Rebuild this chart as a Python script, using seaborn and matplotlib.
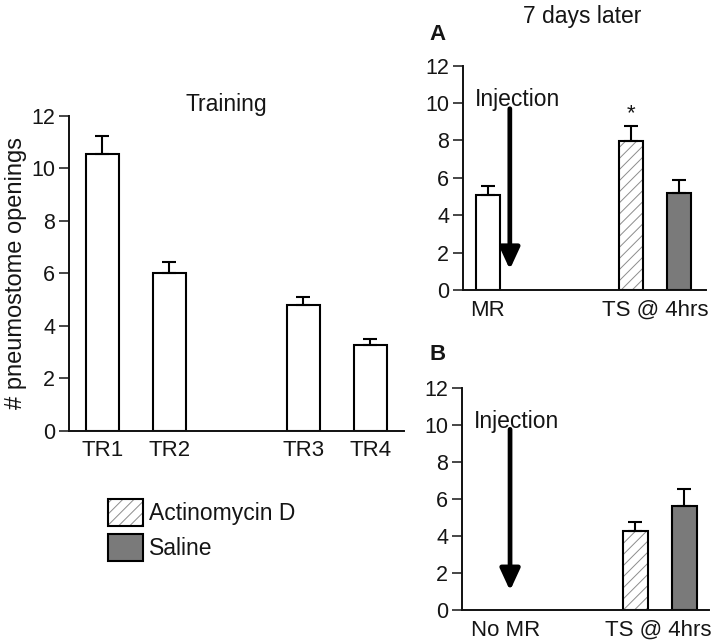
import matplotlib
matplotlib.use("Agg")
import matplotlib.pyplot as plt
from matplotlib.patches import Patch, Rectangle
from matplotlib.legend_handler import HandlerTuple
import seaborn as sns
import pandas as pd

# ---- data ----
train_labels = ["TR1", "TR2", "TR3", "TR4"]
train_pos = [0, 1, 3, 4]
train_mean = [10.56, 6.03, 4.80, 3.26]
train_sem = [0.66, 0.40, 0.31, 0.25]

a_groups = ["MR", "Actinomycin D", "Saline"]
a_pos = [0, 3, 4]
a_mean = [5.08, 7.95, 5.19]
a_sem = [0.50, 0.82, 0.68]

b_groups = ["Actinomycin D", "Saline"]
b_pos = [3, 4]
b_mean = [4.27, 5.64]
b_sem = [0.47, 0.92]

y_ticks = [0, 2, 4, 6, 8, 10, 12]
group_face = {"MR": "white", "Training": "white", "Actinomycin D": "white", "Saline": "#7a7a7a"}
HATCH_EDGE = "#8c8c8c"

sns.set_style("ticks")
plt.rcParams["font.family"] = ["Liberation Sans", "DejaVu Sans"]
plt.rcParams["hatch.linewidth"] = 0.7
TXT = "#151515"

fig = plt.figure(figsize=(7.2, 6.44), dpi=100)
ax0 = fig.add_axes([0.0958, 0.3312, 0.4653, 0.4887])
axA = fig.add_axes([0.6431, 0.5497, 0.3375, 0.3483])
axB = fig.add_axes([0.6417, 0.0528, 0.3430, 0.3443])


def draw(ax, pos, mean, sem, groups):
    df = pd.DataFrame({"x": pos, "y": mean})
    sns.barplot(data=df, x="x", y="y", native_scale=True, width=0.5,
                color="white", edgecolor="black", linewidth=1.5,
                errorbar=None, ax=ax)
    patches = [p for p in ax.patches]
    xs, tops = [], []
    for p, g in zip(patches, groups):
        p.set_facecolor(group_face[g])
        p.set_edgecolor("black")
        if g == "Actinomycin D":
            p.set_edgecolor(HATCH_EDGE)
            p.set_hatch("///")
            p.set_linewidth(0)
            ax.add_patch(Rectangle((p.get_x(), p.get_y()), p.get_width(), p.get_height(),
                                   fill=False, edgecolor="black", linewidth=1.5, zorder=p.get_zorder() + 0.1))
        xs.append(p.get_x() + p.get_width() / 2)
        tops.append(p.get_height())
    ax.errorbar(xs, tops, yerr=[[0] * len(sem), sem], fmt="none", ecolor="black",
                elinewidth=1.5, capsize=4.8, capthick=1.5, zorder=5)
    ax.set_ylim(0, 12)
    ax.set_yticks(y_ticks)
    ax.set_xlabel("")
    ax.set_ylabel("")
    sns.despine(ax=ax)
    for s in ("left", "bottom"):
        ax.spines[s].set_linewidth(1.4)
        ax.spines[s].set_color("#111111")
    ax.tick_params(axis="y", length=7, width=1.1, pad=3, labelsize=15.5, colors=TXT)
    ax.tick_params(axis="x", length=0, pad=7, labelsize=16, colors=TXT)


# Training panel
draw(ax0, train_pos, train_mean, train_sem, ["Training"] * 4)
ax0.set_xlim(-0.5, 4.5)
ax0.set_xticks(train_pos)
ax0.set_xticklabels(train_labels)
ax0.set_ylabel("# pneumostome openings", fontsize=17, color=TXT, labelpad=3)
fig.text(0.314, 0.837, "Training", fontsize=16.5, ha="center", va="center", color=TXT)

# Panel A
draw(axA, a_pos, a_mean, a_sem, a_groups)
axA.set_xlim(-0.52, 4.57)
axA.set_xticks([0, 3.5])
axA.set_xticklabels(["MR", "TS @ 4hrs"])
arrow = dict(arrowstyle="-|>,head_width=0.6,head_length=1.3", lw=3.4, color="black",
             mutation_scale=10, shrinkA=0, shrinkB=0)
axA.annotate("", xy=(0.46, 1.1), xytext=(0.46, 9.7), arrowprops=arrow)
axA.text(-0.27, 10.2, "Injection", fontsize=16.5, ha="left", va="center", color=TXT)
axA.text(3, 9.45, "*", fontsize=16, ha="center", va="center", color=TXT)

# Panel B
draw(axB, b_pos, b_mean, b_sem, b_groups)
axB.set_xlim(-0.54, 4.5)
axB.set_xticks([0.35, 3.46])
axB.set_xticklabels(["No MR", "TS @ 4hrs"])
axB.annotate("", xy=(0.44, 1.05), xytext=(0.44, 9.78), arrowprops=arrow)
axB.text(-0.3, 10.2, "Injection", fontsize=16.5, ha="left", va="center", color=TXT)

fig.text(0.808, 0.974, "7 days later", fontsize=16.5, ha="center", va="center", color=TXT)
fig.text(0.607, 0.947, "A", fontsize=16, fontweight="bold", ha="center", va="center", color=TXT)
fig.text(0.608, 0.449, "B", fontsize=16, fontweight="bold", ha="center", va="center", color=TXT)

# Legend
h_act = (Patch(facecolor="white", edgecolor=HATCH_EDGE, hatch="///", linewidth=0),
         Patch(facecolor="none", edgecolor="black", linewidth=1.5))
h_sal = Patch(facecolor=group_face["Saline"], edgecolor="black", linewidth=1.5)
fig.legend([h_act, h_sal], ["Actinomycin D", "Saline"],
           handler_map={tuple: HandlerTuple(ndivide=1, pad=0)},
           loc="upper left", bbox_to_anchor=(108 / 720, 1 - 499 / 644),
           frameon=False, fontsize=16.5, borderpad=0, borderaxespad=0,
           handlelength=1.52, handleheight=1.43, handletextpad=0.26, labelspacing=0.37,
           labelcolor=TXT)

fig.savefig("out.png", dpi=100)
